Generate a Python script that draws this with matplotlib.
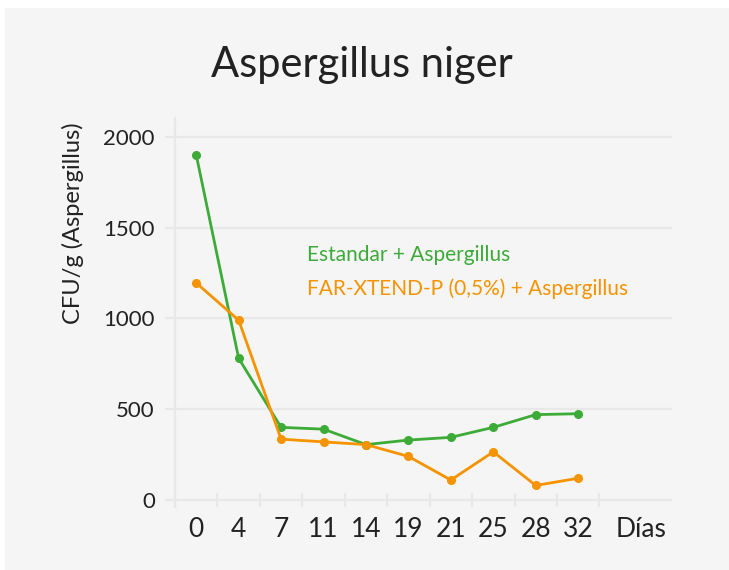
import numpy as np
import matplotlib.pyplot as plt
from matplotlib.patches import Rectangle

plt.rcParams['font.family'] = ['Lato', 'DejaVu Sans']

# Datos
dias = ['0', '4', '7', '11', '14', '19', '21', '25', '28', '32']
estandar = [1900, 780, 400, 390, 305, 330, 345, 400, 470, 475]
far_xtend = [1195, 990, 335, 320, 305, 240, 110, 265, 80, 120]

titulo = 'Aspergillus niger'
etiqueta_y = 'CFU/g (Aspergillus)'
etiqueta_x = 'Días'
serie_1 = 'Estandar + Aspergillus'
serie_2 = 'FAR-XTEND-P (0,5%) + Aspergillus'

verde = '#3dab37'
naranja = '#f59300'
gris_fondo = '#f5f5f5'
gris_linea = '#e8e8e8'
texto = '#222222'

W, H = 729, 570
fig = plt.figure(figsize=(W / 100, H / 100), dpi=100, facecolor='white')

# panel gris de fondo
fig.patches.append(Rectangle((5 / W, 0), 1 - 5 / W, (H - 8) / H,
                             transform=fig.transFigure, facecolor=gris_fondo,
                             edgecolor='none', zorder=-10))

# ejes: izquierda 175px, derecha 672px, arriba 118px, abajo 507px
ax = fig.add_axes([175 / W, (H - 507) / H, (672 - 175) / W, (507 - 118) / H])
ax.set_facecolor('none')
ax.set_zorder(1)

x = np.arange(len(dias))
ax.plot(x, estandar, color=verde, lw=2.0, marker='o', ms=5.5, zorder=3)
ax.plot(x, far_xtend, color=naranja, lw=2.0, marker='o', ms=5.5, zorder=3)

ax.set_xlim(-0.5, 11.21)
ax.set_ylim(-38.5, 2103)

# cuadricula horizontal
ax.set_yticks([0, 500, 1000, 1500, 2000])
ax.yaxis.grid(True, color=gris_linea, lw=1.6)
ax.set_axisbelow(True)
ax.tick_params(axis='y', length=7.5, width=1.6, color=gris_linea,
               labelsize=16, labelcolor=texto, pad=7)

for s in ['top', 'right', 'bottom']:
    ax.spines[s].set_visible(False)
ax.spines['left'].set_color(gris_linea)
ax.spines['left'].set_linewidth(1.6)

# eje x categorico
ax.spines['bottom'].set_position(('data', 0))
ax.set_xticks(list(x) + [10.49])
ax.set_xticklabels(dias + [etiqueta_x])
ax.set_xticks(np.arange(-0.5, len(dias)), minor=True)
ax.tick_params(axis='x', which='major', length=0, labelsize=19,
               labelcolor=texto, pad=12)
ax.tick_params(axis='x', which='minor', direction='inout', length=10,
               width=1.6, color=gris_linea)

# titulo y etiquetas
fig.text(362 / W, 1 - 76.7 / H, titulo, ha='center', va='baseline',
         fontsize=30, color=texto)
fig.text(73 / W, 1 - 223 / H, etiqueta_y, rotation=90, ha='center',
         va='center', fontsize=17, color=texto)

# leyenda como texto
fig.text(307 / W, 1 - 261 / H, serie_1, ha='left', va='baseline',
         fontsize=15, color=verde)
fig.text(307 / W, 1 - 295 / H, serie_2, ha='left', va='baseline',
         fontsize=15, color=naranja)

fig.savefig('out.png', dpi=100, facecolor=fig.get_facecolor())
